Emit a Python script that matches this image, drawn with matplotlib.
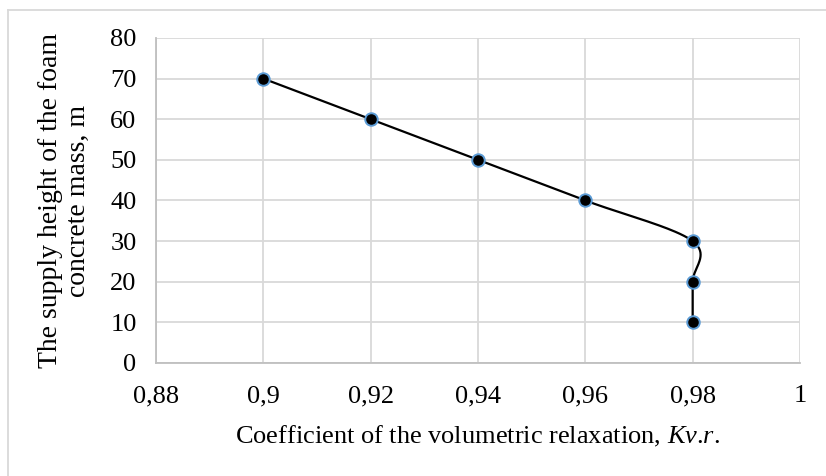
import numpy as np
import matplotlib
matplotlib.use("Agg")
from matplotlib import pyplot as plt
from matplotlib.lines import Line2D

# data
kvr = [0.90, 0.92, 0.94, 0.96, 0.98, 0.98, 0.98]
height = [70, 60, 50, 40, 30, 20, 10]

x_ticks = [0.88, 0.90, 0.92, 0.94, 0.96, 0.98, 1.00]
x_labels = ['0,88', '0,9', '0,92', '0,94', '0,96', '0,98', '1']
y_ticks = [0, 10, 20, 30, 40, 50, 60, 70, 80]

plt.rcParams['font.family'] = ['Liberation Serif', 'DejaVu Serif']
plt.rcParams['mathtext.fontset'] = 'custom'
plt.rcParams['mathtext.it'] = 'Liberation Serif:italic'
plt.rcParams['mathtext.rm'] = 'Liberation Serif'


def excel_smooth(x, y, n=40):
    # bezier segments with control points from neighbouring points, like Excel's smoothed line
    p = np.column_stack([x, y]).astype(float)
    pts = []
    for i in range(len(p) - 1):
        p0 = p[i - 1] if i > 0 else p[i]
        p3 = p[i + 2] if i + 2 < len(p) else p[i + 1]
        c1 = p[i] + (p[i + 1] - p0) / 6
        c2 = p[i + 1] - (p3 - p[i]) / 6
        t = np.linspace(0, 1, n)[:, None]
        seg = ((1 - t) ** 3 * p[i] + 3 * (1 - t) ** 2 * t * c1
               + 3 * (1 - t) * t ** 2 * c2 + t ** 3 * p[i + 1])
        pts.append(seg if i == 0 else seg[1:])
    pts = np.vstack(pts)
    return pts[:, 0], pts[:, 1]


fig = plt.figure(figsize=(8.26, 4.76), dpi=100)
ax = fig.add_axes([0.1889, 0.2374, 0.9685 - 0.1889, 0.9202 - 0.2374])

sx, sy = excel_smooth(kvr, height)
ax.plot(sx, sy, '-', c='black', lw=1.6, zorder=3)
ax.plot(kvr, height, 'o', ms=9, mfc='black', mec='#5B9BD5', mew=1.4, zorder=4)

ax.set_xlim(0.88, 1.0)
ax.set_ylim(0, 80)
ax.set_xticks(x_ticks)
ax.set_xticklabels(x_labels)
ax.set_yticks(y_ticks)
ax.grid(True, color='#D9D9D9', lw=1.3)
ax.set_axisbelow(True)
for s in ['top', 'right']:
    ax.spines[s].set_visible(False)
for s in ['left', 'bottom']:
    ax.spines[s].set_color('#BFBFBF')
    ax.spines[s].set_linewidth(1.3)
ax.tick_params(axis='both', length=0, labelsize=19)
ax.tick_params(axis='y', pad=14)
ax.tick_params(axis='x', pad=16)

ax.set_xlabel('Coefficient of the volumetric relaxation, $Kv$.$r$.', fontsize=19, labelpad=12)
ax.set_ylabel('The supply height of the foam\nconcrete mass, m', fontsize=20, labelpad=14, linespacing=1.12)

# light border of the chart area (top and left edges visible)
fig.add_artist(Line2D([8 / 826, 1.0], [1 - 9.5 / 476] * 2, color='#D9D9D9', lw=1.3))
fig.add_artist(Line2D([8 / 826] * 2, [0.0, 1 - 9.5 / 476], color='#D9D9D9', lw=1.3))

fig.savefig('out.png', dpi=100)
